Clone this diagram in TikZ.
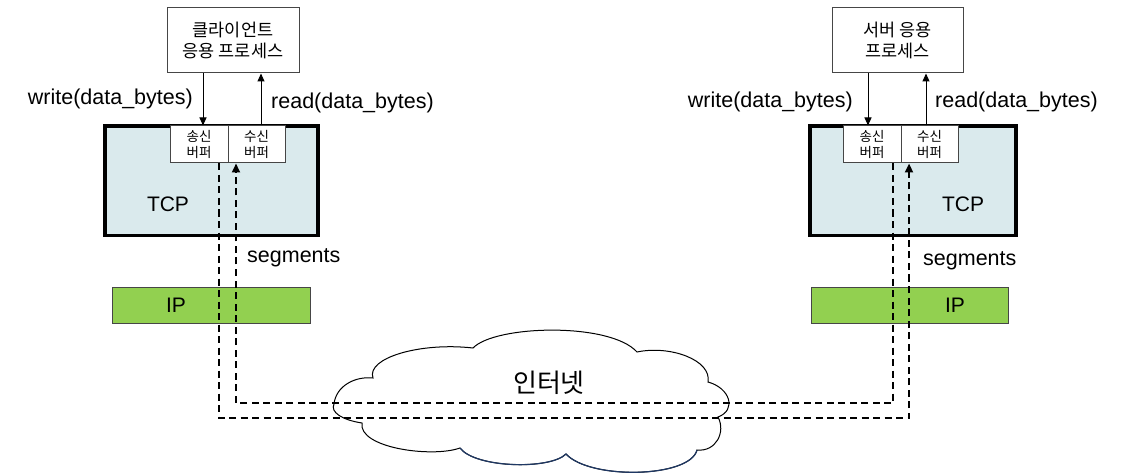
\documentclass[tikz,border=0pt]{standalone}
\usepackage{fontspec}
\setmainfont{Liberation Sans}
\newfontfamily\kr{Noto Sans CJK KR}
\usetikzlibrary{arrows.meta}
\definecolor{tcpfill}{RGB}{218,234,237}
\definecolor{ipgreen}{RGB}{146,208,80}
\definecolor{cloudnavy}{RGB}{31,56,100}
\definecolor{edgegray}{RGB}{70,70,70}
\begin{document}
\begin{tikzpicture}[x=1pt,y=-1pt,
  appbox/.style={draw=edgegray,line width=1pt,fill=white,inner sep=0pt,align=center,
    font=\kr\fontsize{17.5}{21.5}\selectfont},
  tcpbox/.style={draw=black,line width=3.5pt,fill=tcpfill,inner sep=0pt},
  bufbox/.style={draw=edgegray,line width=1pt,fill=white,inner sep=0pt,align=center,
    minimum height=37pt,font=\kr\fontsize{13.5}{16.5}\selectfont},
  ipbox/.style={draw=edgegray,line width=1pt,fill=ipgreen,inner sep=0pt,minimum height=36pt},
  lbl/.style={inner sep=0pt,font=\fontsize{21.5}{25}\selectfont},
  big/.style={inner sep=0pt,font=\fontsize{21}{25}\selectfont},
  apiarrow/.style={line width=1pt,-{Triangle[length=8pt,width=7pt]}},
  seg/.style={line width=2.2pt,dash pattern=on 7pt off 4.5pt},
  segarrow/.style={seg,-{Triangle[length=9pt,width=8pt]}}
]
\useasboundingbox (0,0) rectangle (1136,476);

% ---------- cloud ----------
\path[fill=white,draw=black,line width=1pt]
  (334,404) .. controls (336,386) and (355,376) .. (373,378)
  .. controls (366,358) and (420,342) .. (473,348)
  .. controls (495,325) and (610,322) .. (637,352)
  .. controls (670,345) and (712,360) .. (708,382)
  .. controls (730,388) and (737,410) .. (718,417)
  .. controls (726,432) and (716,452) .. (697,450)
  .. controls (690,478) and (590,480) .. (566,454)
  .. controls (550,470) and (475,468) .. (460,448)
  .. controls (432,458) and (358,448) .. (362,423)
  .. controls (342,420) and (330,412) .. (334,404) -- cycle;
\draw[cloudnavy,line width=1.2pt]
  (697,450) .. controls (690,478) and (590,480) .. (566,454)
  .. controls (550,470) and (475,468) .. (460,448);
\node[inner sep=0pt,font=\kr\fontsize{26}{30}\selectfont] (inet) at (549,383) {인터넷};

% ---------- left (client) ----------
\node[appbox,minimum width=132pt,minimum height=65pt] (appL) at (233,40.5) {클라이언트\\응용 프로세스};
\node[tcpbox,minimum width=213pt,minimum height=109.5pt] (tcpL) at (211.5,180.75) {};
\node[bufbox,minimum width=58pt] (sendL) at (199,144.5) {송신\\버퍼};
\node[bufbox,minimum width=57pt] (recvL) at (256.5,144.5) {수신\\버퍼};
\node[big] (tcpLtxt) at (168,204) {TCP};
\node[ipbox,minimum width=197.5pt] (ipL) at (211.25,305) {};
\node[big] (ipLtxt) at (176,305) {IP};
\node[lbl,anchor=east] (writeL) at (193,99) {write(data\_bytes)};
\node[lbl,anchor=west] (readL) at (271,103) {read(data\_bytes)};
\node[lbl,anchor=west] (segL) at (247,258) {segments};

% ---------- right (server) ----------
\node[appbox,minimum width=131pt,minimum height=65pt] (appR) at (897.5,40.5) {서버 응용\\프로세스};
\node[tcpbox,minimum width=206pt,minimum height=109.5pt] (tcpR) at (913,180.75) {};
\node[bufbox,minimum width=58pt] (sendR) at (872,144.5) {송신\\버퍼};
\node[bufbox,minimum width=57pt] (recvR) at (929.5,144.5) {수신\\버퍼};
\node[big] (tcpRtxt) at (963,204) {TCP};
\node[ipbox,minimum width=197pt] (ipR) at (909.5,305) {};
\node[big] (ipRtxt) at (955,305) {IP};
\node[lbl,anchor=east] (writeR) at (853,102) {write(data\_bytes)};
\node[lbl,anchor=west] (readR) at (935,102) {read(data\_bytes)};
\node[lbl,anchor=west] (segR) at (923,261) {segments};

% ---------- x / y guide coordinates ----------
\coordinate (wL) at (203,0);
\coordinate (rL) at (261,0);
\coordinate (wR) at (868,0);
\coordinate (rR) at (926,0);
\coordinate (oL) at (219,0);
\coordinate (iL) at (236,0);
\coordinate (iR) at (893,0);
\coordinate (oR) at (909,0);
\coordinate (yin) at (0,403);
\coordinate (yout) at (0,418);

% ---------- api arrows ----------
\draw[apiarrow] (appL.south -| wL) -- (sendL.north -| wL);
\draw[apiarrow] (recvL.north -| rL) -- (appL.south -| rL);
\draw[apiarrow] (appR.south -| wR) -- (sendR.north -| wR);
\draw[apiarrow] (recvR.north -| rR) -- (appR.south -| rR);

% ---------- segment paths ----------
\draw[segarrow] (sendL.south -| oL) -- (oL |- yout) -- (oR |- yout) -- (recvR.south -| oR);
\draw[segarrow] (sendR.south -| iR) -- (iR |- yin) -- (iL |- yin) -- (recvL.south -| iL);
\end{tikzpicture}
\end{document}
